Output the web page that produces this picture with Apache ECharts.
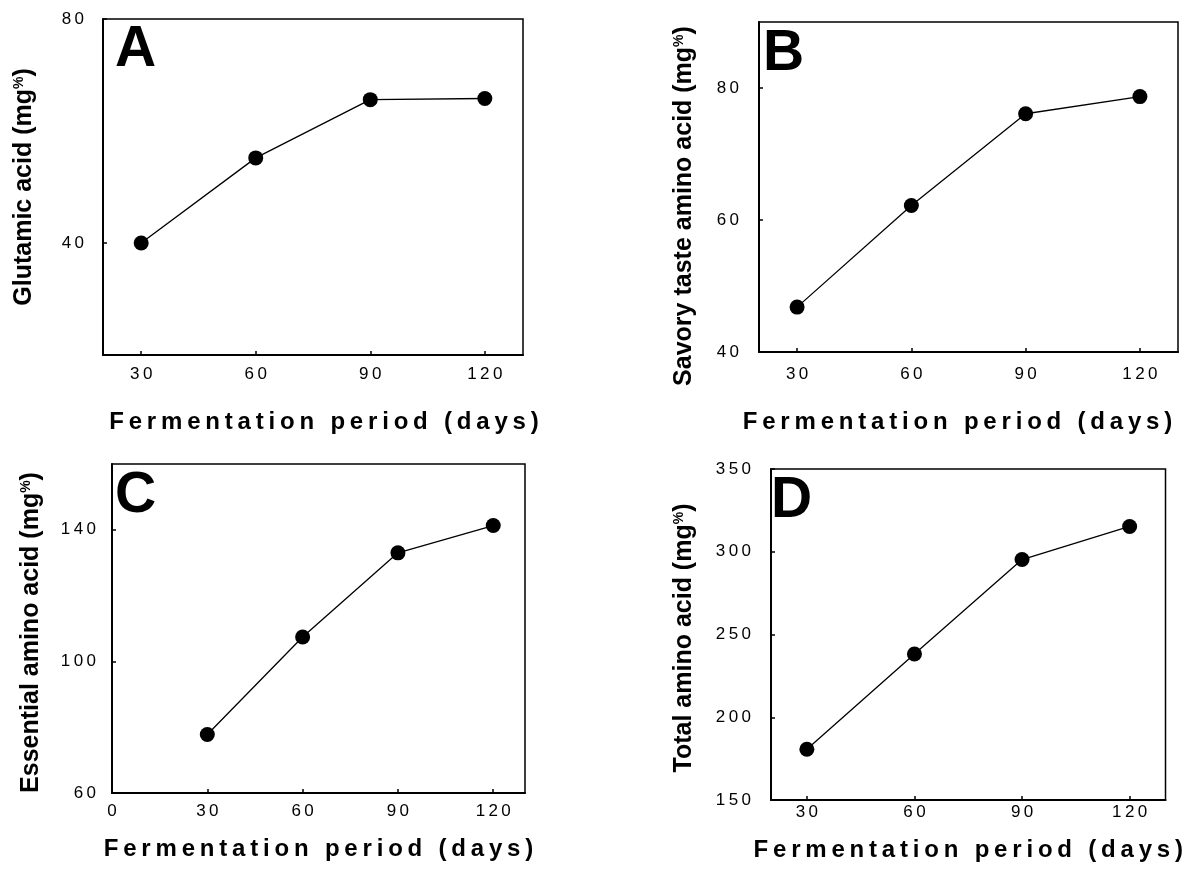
<!DOCTYPE html>
<html>
<head>
<meta charset="utf-8">
<script src="https://cdn.jsdelivr.net/npm/echarts@6/dist/echarts.min.js"></script>
<style>
  html, body { margin: 0; padding: 0; background: #fff; }
  #chart { width: 1185px; height: 874px; }
</style>
</head>
<body>
<div id="chart"></div>
<script>
// fermentation days (x) and the four measured series (mg%)
var days = [30, 60, 90, 120];
var glutamic = [40, 55.2, 65.6, 65.8];
var savory = [46.8, 62.2, 76.1, 78.7];
var essential = [77.8, 107.4, 133, 141.3];
var total = [180.7, 238.2, 295.3, 315.3];

// tick labels
var xTicks = [30, 60, 90, 120];
var xTicksC = [0, 30, 60, 90, 120];
var yTicksA = [40, 80];
var yTicksB = [40, 60, 80];
var yTicksC = [60, 100, 140];
var yTicksD = [150, 200, 250, 300, 350];

var FONT = '"Liberation Sans", Arial, sans-serif';
var THIN = '\u2009';

function spaced (s) {
  return s.split('').join(THIN);
}

function pairs (ys) {
  return days.map(function (d, i) { return [d, ys[i]]; });
}

// one panel = grid + x axis + y axis + series
var panels = [
  { letter: 'A', grid: { left: 103, top: 19, width: 420, height: 336 }, xMin: 20, xTicks: xTicks,
    yMin: 20, yMax: 80, yTicks: yTicksA, yName: 'Glutamic acid (mg{p|%})', data: glutamic,
    xLabelMargin: 11, xNameGap: 55, xNamePad: [0, 0, 0, 22], yLabelMargin: 19, yNameGap: 66, yNamePad: 0,
    letterPos: { left: 115, top: 22 } },
  { letter: 'B', grid: { left: 759, top: 22, width: 419, height: 330 }, xMin: 20, xTicks: xTicks,
    yMin: 40, yMax: 90, yTicks: yTicksB, yName: 'Savory taste amino acid (mg{p|%})', data: savory,
    xLabelMargin: 14, xNameGap: 58, xNamePad: [0, 22, 0, 0], yLabelMargin: 20, yNameGap: 62, yNamePad: [0, 38, 0, 0],
    letterPos: { left: 763, top: 26 } },
  { letter: 'C', grid: { left: 112, top: 464, width: 413, height: 329 }, xMin: 0, xTicks: xTicksC,
    yMin: 60, yMax: 160, yTicks: yTicksC, yName: 'Essential amino acid (mg{p|%})', data: essential,
    xLabelMargin: 10, xNameGap: 44, xNamePad: 0, yLabelMargin: 16, yNameGap: 68, yNamePad: [0, 8, 0, 0],
    letterPos: { left: 115, top: 468 } },
  { letter: 'D', grid: { left: 771, top: 469, width: 410, height: 331 }, xMin: 20, xTicks: xTicks,
    yMin: 150, yMax: 350, yTicks: yTicksD, yName: 'Total amino acid (mg{p|%})', data: total,
    xLabelMargin: 4, xNameGap: 38, xNamePad: 0, yLabelMargin: 20, yNameGap: 74, yNamePad: [0, 7, 0, 0],
    letterPos: { left: 771, top: 473 } }
];

var tickFmt = function (v) { return spaced(String(v)); };

var option = {
  backgroundColor: '#fff',
  animation: false,
  title: [],
  grid: [],
  xAxis: [],
  yAxis: [],
  series: []
};

panels.forEach(function (p, i) {
  option.title.push({
    text: p.letter,
    left: p.letterPos.left,
    top: p.letterPos.top,
    padding: 0,
    textStyle: { fontFamily: FONT, fontSize: 57, fontWeight: 'bold', color: '#000' }
  });
  option.grid.push(Object.assign({
    show: true, borderColor: '#000', borderWidth: 1.5, backgroundColor: '#fff'
  }, p.grid));
  option.xAxis.push({
    type: 'value',
    gridIndex: i,
    min: p.xMin,
    max: 130,
    name: spaced('Fermentation period (days)'),
    nameLocation: 'middle',
    nameGap: p.xNameGap,
    nameTextStyle: { fontFamily: FONT, fontSize: 24, fontWeight: 'bold', color: '#000', padding: p.xNamePad },
    axisLine: { lineStyle: { color: '#000', width: 2 } },
    axisTick: { inside: true, length: 4, customValues: p.xTicks, lineStyle: { color: '#000', width: 1.5 } },
    axisLabel: { customValues: p.xTicks, margin: p.xLabelMargin, formatter: tickFmt,
      fontFamily: FONT, fontSize: 17, color: '#000' },
    splitLine: { show: false }
  });
  option.yAxis.push({
    type: 'value',
    gridIndex: i,
    min: p.yMin,
    max: p.yMax,
    name: p.yName,
    nameLocation: 'middle',
    nameRotate: 90,
    nameGap: p.yNameGap,
    nameTextStyle: {
      fontFamily: FONT, fontSize: 25, fontWeight: 'bold', color: '#000', padding: p.yNamePad,
      rich: { p: { fontFamily: FONT, fontSize: 14, fontWeight: 'bold', color: '#000', verticalAlign: 'top' } }
    },
    axisLine: { lineStyle: { color: '#000', width: 2 } },
    axisTick: { inside: true, length: 4, customValues: p.yTicks, lineStyle: { color: '#000', width: 1.5 } },
    axisLabel: { customValues: p.yTicks, margin: p.yLabelMargin, formatter: tickFmt,
      fontFamily: FONT, fontSize: 17, color: '#000' },
    splitLine: { show: false }
  });
  option.series.push({
    type: 'line',
    xAxisIndex: i,
    yAxisIndex: i,
    data: pairs(p.data),
    symbol: 'circle',
    symbolSize: 15,
    lineStyle: { color: '#000', width: 1.3 },
    itemStyle: { color: '#000' }
  });
});

var myChart = echarts.init(document.getElementById('chart'));
myChart.setOption(option);
</script>
</body>
</html>
